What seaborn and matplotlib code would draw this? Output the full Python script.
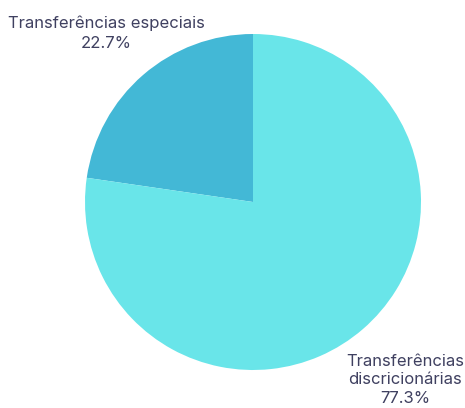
import seaborn as sns
import matplotlib.pyplot as plt

categorias = ["Transferências especiais", "Transferências\ndiscricionárias"]
valores = [22.7, 77.3]
cores = ["#43b8d6", "#69e5e9"]

sns.set_theme(style="white")
plt.rcParams["font.family"] = ["Inter", "DejaVu Sans"]

fig = plt.figure(figsize=(4.65, 4.08), dpi=100)
ax = fig.add_axes([0, 0, 1, 1])

ax.pie(valores, colors=cores, startangle=90, counterclock=True,
       center=(253, 206), radius=168, wedgeprops={"linewidth": 0})

# a pizza mexe nos limites, então fixa depois
ax.set_xlim(0, 465)
ax.set_ylim(0, 408)
ax.set_aspect("equal")
ax.axis("off")

cor_texto = "#3f4060"
rotulos = [f"{c}\n{v:.1f}%" for c, v in zip(categorias, valores)]
ax.text(106, 375, rotulos[0], ha="center", va="center", fontsize=12,
        color=cor_texto, linespacing=1.45)
ax.text(405, 28, rotulos[1], ha="center", va="center", fontsize=12,
        color=cor_texto, linespacing=1.33)

fig.savefig("out.png", dpi=100)
